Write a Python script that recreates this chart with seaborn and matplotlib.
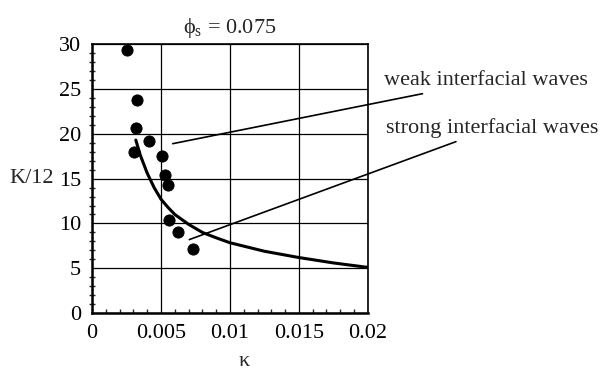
import numpy as np
import pandas as pd
import matplotlib
matplotlib.use('Agg')
import matplotlib.pyplot as plt
import seaborn as sns
from matplotlib.ticker import MultipleLocator

# measured points
kappa_pts = [0.00256, 0.00324, 0.00317, 0.00413, 0.00304, 0.00507, 0.00531, 0.00553, 0.00556, 0.00625, 0.0073]
k12_pts = [29.4, 23.8, 20.7, 19.2, 18.0, 17.5, 15.4, 14.3, 10.4, 9.0, 7.1]

# theory curve
kappa_curve = [0.00317, 0.0035, 0.004, 0.0045, 0.005, 0.0055, 0.006, 0.007, 0.008, 0.009, 0.010, 0.0125, 0.015, 0.0175, 0.020]
k12_curve = [19.3, 17.6, 15.6, 14.0, 12.7, 11.8, 11.0, 9.9, 9.0, 8.4, 7.85, 6.9, 6.2, 5.6, 5.1]

x_ticks = [0, 0.005, 0.01, 0.015, 0.02]
x_ticklabels = ['0', '0.005', '0.01', '0.015', '0.02']
y_ticks = [0, 5, 10, 15, 20, 25, 30]

pts = pd.DataFrame({'kappa': kappa_pts, 'K12': k12_pts})
curve = pd.DataFrame({'kappa': kappa_curve, 'K12': k12_curve})

sns.set_theme(style='white')
plt.rcParams['font.family'] = ['Liberation Serif', 'DejaVu Serif']
plt.rcParams['mathtext.fontset'] = 'custom'
plt.rcParams['mathtext.rm'] = 'Liberation Serif'

fig = plt.figure(figsize=(6.1, 3.71), dpi=100)
ax = fig.add_axes([0.151, 0.156, 0.452, 0.725])

sns.lineplot(data=curve, x='kappa', y='K12', color='black', linewidth=2.2, ax=ax, sort=False)
sns.scatterplot(data=pts, x='kappa', y='K12', color='black', s=65, edgecolor='black', ax=ax, zorder=5)

ax.set_xlim(0, 0.02)
ax.set_ylim(0, 30)
ax.set_xticks(x_ticks, labels=x_ticklabels)
ax.set_yticks(y_ticks)
ax.xaxis.set_minor_locator(MultipleLocator(0.001))
ax.yaxis.set_minor_locator(MultipleLocator(1))
ax.grid(True, which='major', color='black', linewidth=0.9)
for s in ax.spines.values():
    s.set_color('black')
    s.set_linewidth(1.2)
ax.spines['left'].set_linewidth(1.8)
ax.spines['bottom'].set_linewidth(1.8)
ax.tick_params(axis='both', which='major', direction='out', length=6, width=1.2, labelsize=16, colors='black', pad=2)
ax.tick_params(axis='x', which='minor', direction='in', length=3, width=1, bottom=True)
ax.tick_params(axis='y', which='minor', direction='inout', length=4, width=1, left=True)

ax.set_xlabel('κ', fontsize=16)
ax.xaxis.set_label_coords(0.55, -0.145)
ax.set_ylabel('K/12', fontsize=16, rotation=0, ha='right', va='center')
ax.yaxis.set_label_coords(-0.14, 0.5)
ax.set_title('\u03d5$_\\mathrm{s}$ = 0.075', fontsize=16, pad=8)

ax.annotate('weak interfacial waves', xy=(0.00585, 18.9), xytext=(0.0212, 25.9),
            fontsize=16, va='center', ha='left', annotation_clip=False,
            arrowprops=dict(arrowstyle='-', color='black', lw=1.2, shrinkA=0, shrinkB=0))
ax.annotate('strong interfacial waves', xy=(0.00705, 8.2), xytext=(0.0213, 20.6),
            fontsize=16, va='center', ha='left', annotation_clip=False,
            arrowprops=dict(arrowstyle='-', color='black', lw=1.2, shrinkA=0, shrinkB=0))

fig.savefig('out.png', dpi=100)
